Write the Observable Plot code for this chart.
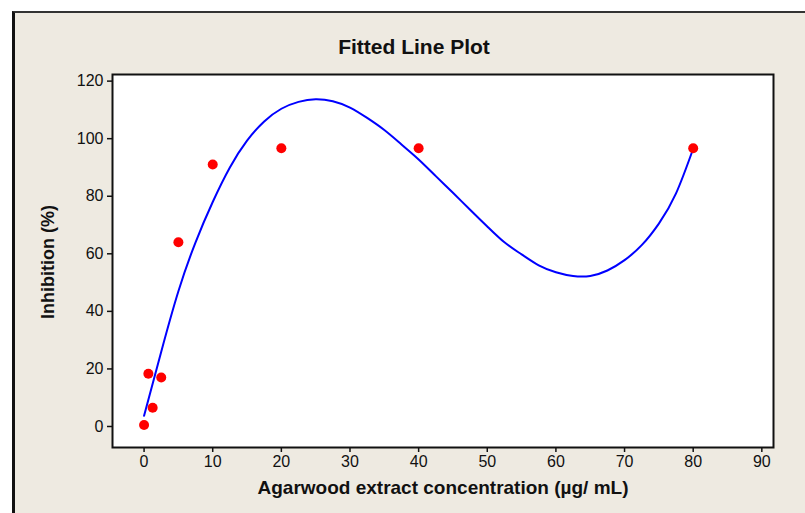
<!DOCTYPE html>
<html>
<head>
<meta charset="utf-8">
<script src="https://cdn.jsdelivr.net/npm/d3@7"></script>
<script src="https://cdn.jsdelivr.net/npm/@observablehq/plot@0.6"></script>
<style>
  html, body { margin: 0; padding: 0; background: #ffffff; }
  #wrap { position: relative; width: 805px; height: 513px; overflow: hidden; background: #ffffff; }
  #panel { position: absolute; left: 12px; top: 11px; width: 800px; height: 510px;
           background: #eeeae1; border-left: 3px solid #111; border-top: 2px solid #333; }
  #chart { position: absolute; left: 0; top: 0; }
</style>
</head>
<body>
<div id="wrap"><div id="panel"></div><div id="chart"></div></div>
<script>
// Observed data (concentration µg/mL, inhibition %)
const concX = [0, 0.625, 1.25, 2.5, 5, 10, 20, 40, 80];
const inhibY = [0.5, 18.3, 6.5, 17, 64, 91, 96.7, 96.7, 96.7];

// Fitted line
const fitX = [0, 2.5, 5, 7.5, 10, 12.5, 15, 17.5, 20, 22.5, 25, 27.5, 30, 32.5, 35, 37.5, 40, 42.5, 45, 47.5, 50, 52.5, 55, 57.5, 60, 62.5, 65, 67.5, 70, 72.5, 75, 77.5, 80];
const fitY = [3.7, 26, 47, 64, 78, 90, 99.3, 106, 110.4, 112.8, 113.7, 113, 110.8, 107.2, 103, 98, 92.8, 87, 81.2, 75.3, 69.5, 64, 59.8, 56, 53.6, 52.3, 52.3, 54.2, 57.8, 63, 70.5, 81, 96.5];

const xTicks = [0, 10, 20, 30, 40, 50, 60, 70, 80, 90];
const yTicks = [0, 20, 40, 60, 80, 100, 120];

const titleText = "Fitted Line Plot";
const xLabel = "Agarwood extract concentration (µg/ mL)";
const yLabel = "Inhibition (%)";

const points = concX.map((x, i) => ({x, y: inhibY[i]}));
const fit = fitX.map((x, i) => ({x, y: fitY[i]}));

const font = "'Liberation Sans', Arial, sans-serif";

const chart = Plot.plot({
  width: 805,
  height: 513,
  marginLeft: 112,
  marginRight: 32,
  marginTop: 74,
  marginBottom: 66,
  style: {background: "transparent", fontFamily: font, fontSize: "16px", color: "#111", overflow: "visible"},
  x: {domain: [-4.6, 91.7]},
  y: {domain: [-7.3, 122.3]},
  marks: [
    Plot.frame({fill: "white"}),
    Plot.axisX({ticks: xTicks, tickSize: 5, tickPadding: 3, label: null, stroke: "#111", strokeWidth: 1.5}),
    Plot.axisY({ticks: yTicks, tickSize: 5, tickPadding: 4, label: null, stroke: "#111", strokeWidth: 1.5}),
    Plot.line(fit, {x: "x", y: "y", stroke: "#0000ff", strokeWidth: 2, curve: "natural"}),
    Plot.dot(points, {x: "x", y: "y", r: 5, fill: "#ff0000", stroke: "none"}),
    Plot.frame({stroke: "#111", strokeWidth: 2}),
    Plot.text([titleText], {frameAnchor: "top", dx: -29, dy: -27, lineAnchor: "middle", fontSize: 21, fontWeight: "bold", fill: "#111"}),
    Plot.text([xLabel], {frameAnchor: "bottom", dy: 40, lineAnchor: "middle", textAnchor: "middle", fontSize: 19, fontWeight: "bold", fill: "#111"}),
    Plot.text([yLabel], {frameAnchor: "left", dx: -64, dy: 1, rotate: -90, lineAnchor: "middle", textAnchor: "middle", fontSize: 18, fontWeight: "bold", fill: "#111"})
  ]
});
document.getElementById("chart").appendChild(chart);
</script>
</body>
</html>
